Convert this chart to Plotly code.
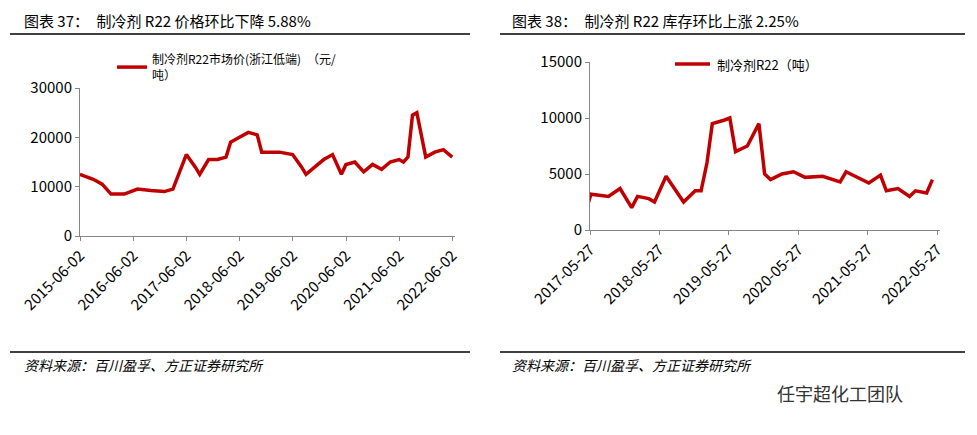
import plotly.graph_objects as go
import pandas as pd

l_dates = ["2015-06","2015-09","2015-11","2016-01","2016-04","2016-07","2016-10","2017-01","2017-03","2017-05","2017-06","2017-08","2017-09","2017-11","2018-01","2018-03","2018-04","2018-06","2018-08","2018-10","2018-11","2019-03","2019-06","2019-08","2019-09","2019-11","2020-01","2020-03","2020-05","2020-06","2020-08","2020-10","2020-12","2021-02","2021-04","2021-06","2021-07","2021-08","2021-09","2021-10","2021-11","2021-12","2022-02","2022-04","2022-06"]
l_vals = [12500,11500,10500,8500,8500,9500,9200,9000,9500,14000,16500,14000,12500,15500,15500,16000,19000,20000,21000,20500,17000,17000,16500,14000,12500,14000,15500,16500,12500,14500,15000,13000,14500,13500,15000,15500,15000,16000,24500,25000,20000,16000,17000,17500,16000]
r_dates = ["2017-05","2017-06","2017-09","2017-11","2018-01","2018-02","2018-04","2018-05","2018-07","2018-08","2018-10","2018-12","2019-01","2019-02","2019-03","2019-05","2019-06","2019-07","2019-09","2019-11","2019-12","2020-01","2020-03","2020-05","2020-07","2020-10","2021-01","2021-02","2021-04","2021-06","2021-08","2021-09","2021-11","2022-01","2022-02","2022-04","2022-05"]
r_vals = [1500,3200,3000,3700,2000,3000,2800,2500,4800,4000,2500,3500,3500,6000,9500,9800,10000,7000,7500,9500,5000,4500,5000,5200,4700,4800,4300,5200,4700,4200,4900,3500,3700,3000,3500,3300,4500]
l_ticks = ["2015-06-02","2016-06-02","2017-06-02","2018-06-02","2019-06-02","2020-06-02","2021-06-02","2022-06-02"]
r_ticks = ["2017-05-27","2018-05-27","2019-05-27","2020-05-27","2021-05-27","2022-05-27"]

W, H, OFF = 977, 435, 8
def px(x): return (x - OFF) / W
def py(y): return 1 - (y - OFF) / H

F = "Noto Sans CJK SC"
RED = "#C00000"
fig = go.Figure()
fig.add_trace(go.Scatter(x=pd.to_datetime(l_dates), y=l_vals, mode="lines", line=dict(color=RED, width=3.5),
                         name="制冷剂R22市场价(浙江低端)　（元/<br>吨）", xaxis="x", yaxis="y"))
fig.add_trace(go.Scatter(x=pd.to_datetime(r_dates), y=r_vals, mode="lines", line=dict(color=RED, width=3.5),
                         name="制冷剂R22（吨）", xaxis="x2", yaxis="y2", showlegend=False))

ax = dict(showgrid=False, showline=True, linecolor="#868686", ticks="outside", ticklen=4, tickcolor="#868686",
          tickangle=-45, automargin=False, tickfont=dict(family=F, size=15, color="#000"))
ay = dict(showgrid=False, showline=True, linecolor="#868686", ticks="outside", ticklen=4, tickcolor="#868686",
          automargin=False, tickformat="d", tickfont=dict(family=F, size=15, color="#000"))
fig.update_layout(
    width=W, height=H, margin=dict(l=0, r=0, t=0, b=0), plot_bgcolor="white", paper_bgcolor="white",
    xaxis=dict(ax, domain=[px(80), px(455)], anchor="y", tickvals=pd.to_datetime(l_ticks), ticktext=l_ticks,
               range=[pd.Timestamp("2015-06-02"), pd.Timestamp("2022-06-20")]),
    yaxis=dict(ay, domain=[py(236), py(88)], anchor="x", range=[0, 30000], dtick=10000),
    xaxis2=dict(ax, domain=[px(590), px(940)], anchor="y2", tickvals=pd.to_datetime(r_ticks), ticktext=r_ticks,
                range=[pd.Timestamp("2017-05-27"), pd.Timestamp("2022-06-10")]),
    yaxis2=dict(ay, domain=[py(230), py(62)], anchor="x2", range=[0, 15000], dtick=5000),
    legend=dict(x=px(112), y=py(45), xanchor="left", yanchor="top", font=dict(family=F, size=12, color="#000"), bgcolor="rgba(0,0,0,0)"),
    showlegend=True,
)
ann = [
    dict(x=22, y=21, text="图表 37：　制冷剂 R22 价格环比下降 5.88%", size=15, it=False),
    dict(x=510, y=21, text="图表 38：　制冷剂 R22 库存环比上涨 2.25%", size=15, it=False),
    dict(x=22, y=365, text="资料来源：百川盈孚、方正证券研究所", size=14, it=True),
    dict(x=510, y=365, text="资料来源：百川盈孚、方正证券研究所", size=14, it=True),
    dict(x=775, y=393, text="任宇超化工团队", size=18, it=False),
]
for a in ann:
    t = "<i>" + a["text"] + "</i>" if a["it"] else a["text"]
    fig.add_annotation(x=px(a["x"]), y=py(a["y"]), xref="paper", yref="paper", xanchor="left", yanchor="middle",
                       text=t, showarrow=False, font=dict(family=F, size=a["size"], color="#333" if a["size"] == 18 else "#000"))
fig.add_annotation(x=px(715), y=py(64), xref="paper", yref="paper", xanchor="left", yanchor="middle",
                   text="制冷剂R22（吨）", showarrow=False, font=dict(family=F, size=13, color="#000"))
fig.add_shape(type="line", xref="paper", yref="paper", x0=px(675), x1=px(710), y0=py(64), y1=py(64),
              line=dict(color=RED, width=3.5))
for x0, x1 in [(10, 470), (500, 965)]:
    for yy in (34, 352):
        fig.add_shape(type="line", xref="paper", yref="paper", x0=px(x0), x1=px(x1), y0=py(yy), y1=py(yy),
                      line=dict(color="#000", width=1.5))
fig.write_html("out.html")
